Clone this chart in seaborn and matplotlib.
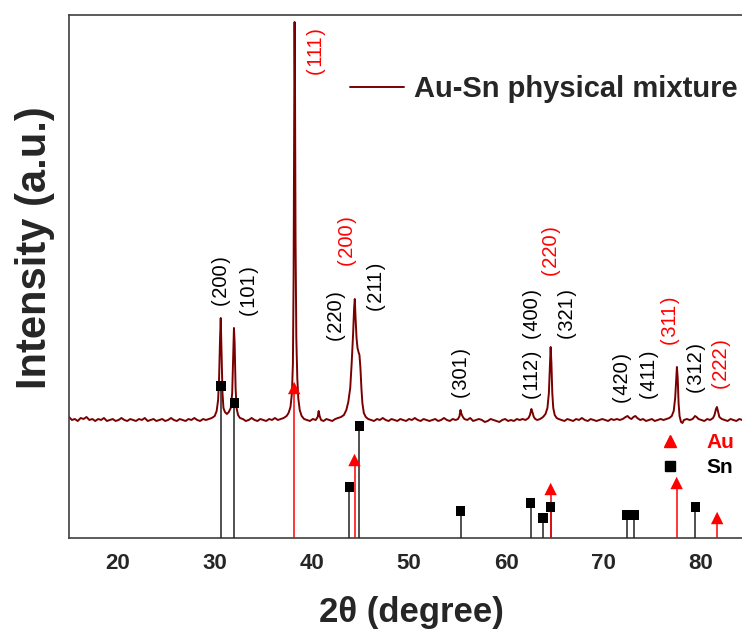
import matplotlib
matplotlib.use('Agg')
import numpy as np
import pandas as pd
import matplotlib.pyplot as plt
import seaborn as sns
from matplotlib.lines import Line2D

# XRD trace of the Au-Sn physical mixture (arbitrary units)
two_theta = [
    15.0, 15.3, 15.6, 15.9, 16.2, 16.5, 16.8, 17.1, 17.4, 17.7, 18.0, 18.3, 18.6, 18.9,
    19.2, 19.5, 19.8, 20.1, 20.4, 20.7, 21.0, 21.3, 21.6, 21.9, 22.2, 22.5, 22.8, 23.1,
    23.4, 23.7, 24.0, 24.3, 24.6, 24.9, 25.2, 25.5, 25.8, 26.1, 26.4, 26.7, 27.0, 27.3,
    27.6, 27.9, 28.2, 28.5, 28.8, 29.1, 29.4, 29.7, 30.0,
    30.2, 30.35, 30.45, 30.55, 30.62, 30.7, 30.8, 30.9, 31.05, 31.25, 31.45, 31.65, 31.8,
    31.9, 31.98, 32.05, 32.15, 32.25, 32.4, 32.6,
    32.9, 33.2, 33.5, 33.8, 34.1, 34.4, 34.7, 35.0, 35.3, 35.6, 35.9, 36.2, 36.5, 36.8,
    37.1, 37.4,
    37.6, 37.8, 37.95, 38.05, 38.12, 38.18, 38.22, 38.27, 38.32, 38.4, 38.5, 38.6, 38.75,
    38.95, 39.2,
    39.5, 39.8, 40.1, 40.4, 40.6, 40.7, 40.8, 40.95, 41.2, 41.5, 41.8, 42.1, 42.4, 42.7,
    43.0, 43.3,
    43.55, 43.75, 43.95, 44.1, 44.25, 44.35, 44.42, 44.5, 44.6, 44.7, 44.8, 44.9, 45.0,
    45.1, 45.2, 45.35, 45.55, 45.8,
    46.1, 46.4, 46.7, 47.0, 47.3, 47.6, 47.9, 48.2, 48.5, 48.8, 49.1, 49.4, 49.7, 50.0,
    50.3, 50.6, 50.9, 51.2, 51.5, 51.8, 52.1, 52.4, 52.7, 53.0, 53.3, 53.6, 53.9, 54.2,
    54.5, 54.8, 55.05,
    55.2, 55.3, 55.4, 55.55, 55.7,
    56.0, 56.3, 56.6, 56.9, 57.2, 57.5, 57.8, 58.1, 58.4, 58.7, 59.0, 59.3, 59.6, 59.9,
    60.2, 60.5, 60.8, 61.1, 61.4, 61.7, 62.0, 62.3,
    62.45, 62.6, 62.7, 62.85, 63.0, 63.2, 63.5, 63.8, 64.05, 64.25, 64.4, 64.5, 64.58,
    64.66, 64.75, 64.85, 65.0, 65.2, 65.4,
    65.7, 66.0, 66.3, 66.6, 66.9, 67.2, 67.5, 67.8, 68.1, 68.4, 68.7, 69.0, 69.3, 69.6,
    69.9, 70.2, 70.5, 70.8, 71.1, 71.4, 71.7, 72.0, 72.3, 72.5, 72.7, 72.9, 73.1, 73.3,
    73.5, 73.8, 74.1, 74.4, 74.7, 75.0, 75.3, 75.6, 75.9, 76.2, 76.5, 76.8, 77.05,
    77.25, 77.4, 77.5, 77.58, 77.66, 77.75, 77.85, 78.0, 78.15, 78.3, 78.6, 78.9, 79.2,
    79.45, 79.6, 79.8, 80.1, 80.4, 80.7, 81.0, 81.3, 81.45, 81.6, 81.7, 81.8, 81.95,
    82.2, 82.5, 82.8, 83.1, 83.4, 83.7, 84.0, 84.3, 84.6, 85.0,
]
intensity = [
    121, 118, 119, 117, 120, 119, 121, 118, 119, 117, 119, 118, 120, 117,
    118, 119, 117, 118, 120, 118, 117, 119, 118, 117, 119, 118, 120, 117,
    118, 119, 117, 118, 119, 117, 118, 120, 118, 117, 119, 118, 117, 119,
    118, 120, 118, 117, 119, 118, 119, 120, 122,
    127, 138, 160, 200, 220, 185, 145, 130, 126, 124, 126, 130, 145,
    180, 210, 195, 150, 130, 123, 120,
    119, 117, 118, 120, 118, 117, 119, 118, 117, 119, 118, 120, 118, 119,
    120, 122,
    125, 131, 145, 175, 260, 420, 516, 440, 300, 200, 160, 140, 128,
    122, 119,
    118, 117, 119, 118, 121, 127, 122, 118, 117, 119, 118, 117, 119, 120,
    121, 123,
    128, 136, 150, 175, 205, 230, 239, 220, 200, 190, 186, 183, 170,
    150, 135, 125, 121, 119,
    118, 117, 119, 118, 120, 118, 117, 119, 118, 117, 119, 118, 117, 119,
    118, 120, 118, 117, 119, 118, 117, 118, 119, 117, 118, 120, 118, 117,
    119, 118, 119,
    122, 128, 124, 121, 119,
    118, 120, 117, 118, 119, 118, 116, 117, 119, 118, 117, 116, 118, 119,
    117, 118, 117, 119, 118, 119, 118, 120,
    123, 129, 126, 121, 119, 118, 119, 121, 124, 130, 145, 170, 191,
    175, 145, 130, 123, 120, 119,
    118, 117, 119, 118, 117, 119, 118, 120, 118, 117, 119, 118, 117, 118,
    119, 118, 117, 119, 118, 119, 118, 119, 121, 122, 120, 119, 121, 122,
    120, 118, 119, 117, 118, 119, 117, 118, 119, 118, 119, 120, 122,
    127, 140, 158, 171, 160, 135, 122, 116, 115, 118, 119, 118, 119,
    122, 121, 119, 118, 117, 119, 118, 120, 123, 129, 131, 127, 121,
    119, 118, 117, 119, 118, 117, 119, 118, 117, 118,
]

# reference patterns (stick positions and relative heights)
sn_pos = [30.64, 32.01, 43.87, 44.90, 55.33, 62.54, 63.78, 64.58, 72.41, 73.19, 79.47]
sn_height = [152, 135, 51, 112, 27, 35, 20, 31, 23, 23, 31]
au_pos = [38.18, 44.39, 64.58, 77.55, 81.72]
au_height = [150, 78, 49, 55, 20]

# hkl labels: text, x, y, colour
hkl_text = ['(200)', '(101)', '(111)', '(220)', '(200)', '(211)', '(301)', '(112)',
            '(400)', '(220)', '(321)', '(420)', '(411)', '(311)', '(312)', '(222)']
hkl_x = [30.72, 33.6, 40.49, 42.55, 43.68, 46.67, 55.41, 62.72,
         62.72, 64.67, 66.32, 71.97, 74.75, 76.91, 79.59, 82.16]
hkl_y = [257, 247, 486, 222, 297, 251, 165, 163,
         224, 287, 224, 160, 163, 217, 170, 174]
hkl_color = ['black', 'black', 'red', 'black', 'red', 'black', 'black', 'black',
             'black', 'red', 'black', 'black', 'black', 'red', 'black', 'red']

sns.set_theme(style='white')
plt.rcParams['font.family'] = ['Liberation Sans', 'DejaVu Sans']

fig = plt.figure(figsize=(7.42, 6.31), dpi=100)
ax = fig.add_axes([69 / 742, 93 / 631, 680 / 742, 523 / 631])

df = pd.DataFrame({'two_theta': two_theta, 'intensity': intensity})
sns.lineplot(data=df, x='two_theta', y='intensity', color='#7a0000', lw=1.4,
             estimator=None, sort=False, ax=ax, label='Au-Sn physical mixture')

# stick patterns
ax.vlines(sn_pos, 0, sn_height, color='#222222', lw=1.1, zorder=3)
ax.vlines(au_pos, 0, au_height, color='red', lw=1.1, zorder=3)
sns.scatterplot(x=sn_pos, y=sn_height, marker='s', color='black', s=45,
                edgecolor='none', ax=ax, zorder=4, legend=False)
sns.scatterplot(x=au_pos, y=au_height, marker='^', color='red', s=80,
                edgecolor='none', ax=ax, zorder=4, legend=False)

for t, x, y, c in zip(hkl_text, hkl_x, hkl_y, hkl_color):
    t = t[0] + '\u200a' + t[1:-1] + '\u200a' + t[-1]
    ax.text(x, y, t, rotation=90, ha='center', va='center', color=c, fontsize=14.5)

ax.set_xlim(15, 85)
ax.set_ylim(0, 523)
ax.set_xticks(range(20, 90, 10))
ax.set_yticks([])
ax.tick_params(axis='x', direction='out', length=4.5, width=1, color='#444444',
               pad=6, labelsize=16)
for lbl in ax.get_xticklabels():
    lbl.set_fontweight('bold')
for s in ['left', 'top', 'bottom']:
    ax.spines[s].set_color('#404040')
    ax.spines[s].set_linewidth(1.2)
ax.spines['right'].set_visible(False)

ax.set_xlabel('2θ (degree)', fontsize=25, fontweight='bold')
ax.xaxis.set_label_coords(0.503, -0.11)
ax.set_ylabel('Intensity (a.u.)', fontsize=30, fontweight='bold')
ax.yaxis.set_label_coords(-0.021, 0.5545)

leg1 = ax.legend(loc='center left', bbox_to_anchor=(0.413, 0.8585), frameon=False,
                 borderpad=0, borderaxespad=0, handlelength=1.85, handletextpad=0.35,
                 prop={'weight': 'bold', 'size': 21})
ax.add_artist(leg1)

ref_handles = [Line2D([], [], marker='^', color='red', ls='', ms=9),
               Line2D([], [], marker='s', color='black', ls='', ms=7)]
ax.legend(handles=ref_handles, labels=['Au', 'Sn'], labelcolor=['red', 'black'],
          loc='upper left', bbox_to_anchor=(0.869, 0.2008), frameon=False,
          borderpad=0, borderaxespad=0, handlelength=1.0, handletextpad=1.25,
          labelspacing=0.3, prop={'weight': 'bold', 'size': 15})

fig.savefig('out.png', dpi=100)
